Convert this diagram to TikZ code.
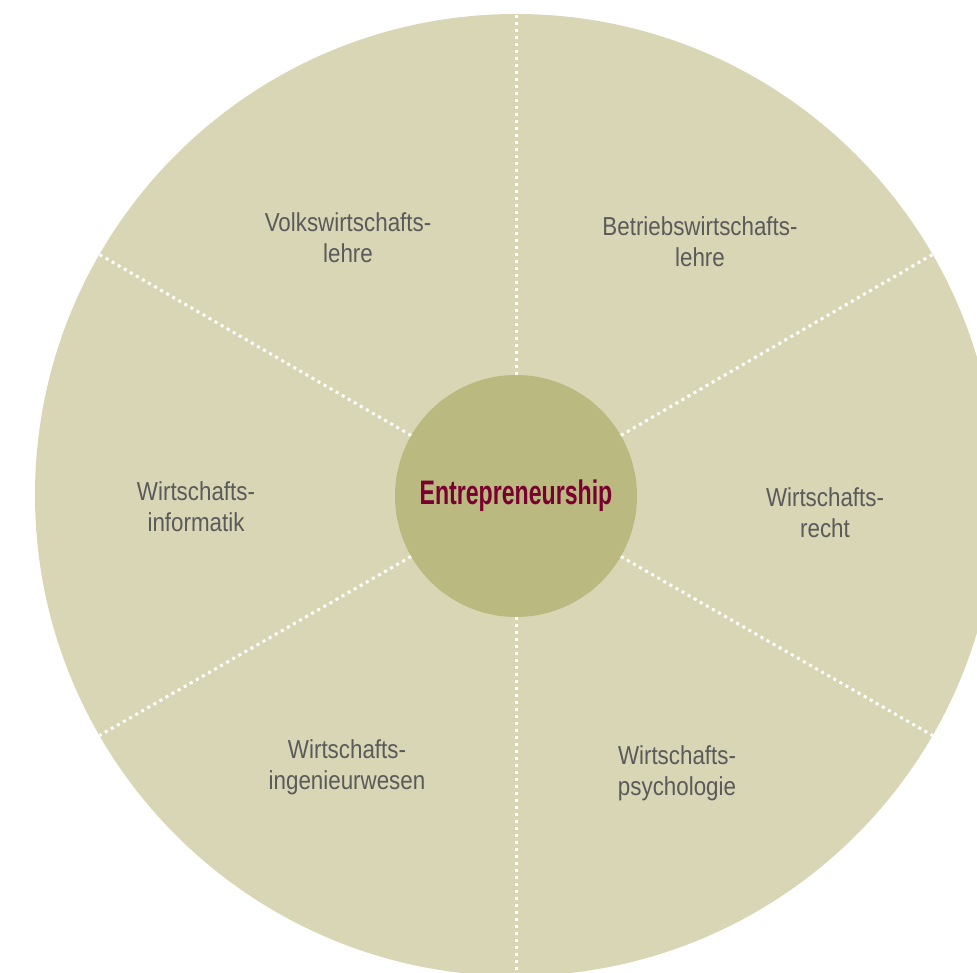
\documentclass[tikz,border=0pt]{standalone}
\usepackage{fontspec}
\setmainfont{Liberation Sans}
\newfontfamily\fieldfont{Liberation Sans}[FakeStretch=0.86]
\newfontfamily\hubfont{Liberation Sans}[FakeStretch=0.68]
\usetikzlibrary{positioning}
\definecolor{rimfill}{RGB}{217,214,182}
\definecolor{hubfill}{RGB}{186,185,128}
\definecolor{fieldtext}{RGB}{90,90,90}
\definecolor{hubtext}{RGB}{122,0,48}

\begin{document}
\begin{tikzpicture}[
        x=1pt, y=1pt,
        rim/.style={circle, fill=rimfill, minimum size=962pt, inner sep=0pt},
        hub/.style={circle, fill=hubfill, minimum size=242pt, inner sep=0pt,
            text=hubtext, font=\hubfont\bfseries\fontsize{34}{38}\selectfont},
        spoke/.style={draw=white, line width=3pt, dash pattern=on 3pt off 4pt},
        field/.style={align=center, text=fieldtext,
            font=\fieldfont\fontsize{26}{31}\selectfont},
    ]

        \clip (0,0) rectangle (977,973);

        % Draw the outer disc and the centre
        \node[rim] (rim) at (516,478) {};
        \node[hub] (hub) at (516,477) {Entrepreneurship};

        % Dotted spokes between the sectors
        \foreach \a in {30,90,...,330}
            \draw[spoke] (hub.\a) -- (rim.\a);

        % Label the sectors
        \node[field] (vwl) at (348,735) {Volkswirtschafts-\\lehre};
        \node[field] (bwl) at (700,731) {Betriebswirtschafts-\\lehre};
        \node[field] (wi)  at (196,466) {Wirtschafts-\\informatik};
        \node[field] (wr)  at (825,460) {Wirtschafts-\\recht};
        \node[field] (wing) at (347,206) {Wirtschafts-\\ingenieurwesen};
        \node[field] (wp)  at (677,200) {Wirtschafts-\\psychologie};
    \end{tikzpicture}
\end{document}
